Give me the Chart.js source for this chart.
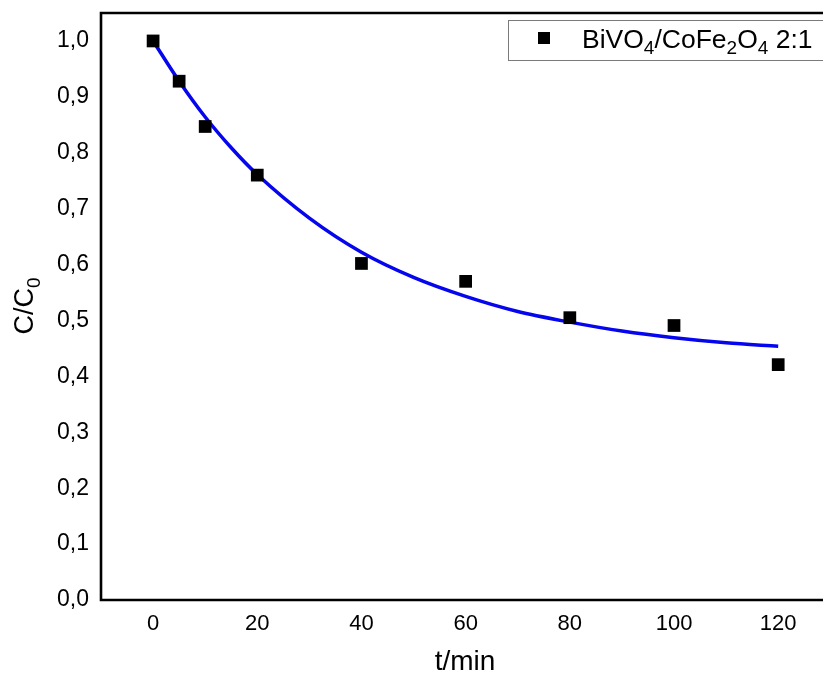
<!DOCTYPE html>
<html>
<head>
<meta charset="utf-8">
<script src="https://cdn.jsdelivr.net/npm/chart.js@4.4.1/dist/chart.umd.min.js"></script>
<style>
  html, body { margin: 0; padding: 0; background: #ffffff; }
  #wrap { width: 823px; height: 682px; position: relative; }
</style>
</head>
<body>
<div id="wrap"><canvas id="chart" width="823" height="682"></canvas></div>
<script>
// Measured concentration ratio C/C0 over irradiation time
const times = [0, 5, 10, 20, 40, 60, 80, 100, 120];
const ratio = [1.0, 0.928, 0.847, 0.760, 0.602, 0.570, 0.505, 0.491, 0.421];

// Kinetic fit curve sampled along the time axis
const fitTimes = [0, 5, 10, 15, 20, 30, 40, 50, 60, 70, 80, 90, 100, 110, 120];
const fitValues = [1.0, 0.928, 0.864, 0.809, 0.761, 0.683, 0.622, 0.577, 0.543, 0.516, 0.497, 0.481, 0.469, 0.460, 0.454];

// Axis ticks
const xTicks = [0, 20, 40, 60, 80, 100, 120];
const yTicks = [0, 0.1, 0.2, 0.3, 0.4, 0.5, 0.6, 0.7, 0.8, 0.9, 1.0];

// Legend entry, split into normal and subscript parts
const seriesLabel = [['BiVO', false], ['4', true], ['/CoFe', false], ['2', true], ['O', false], ['4', true], [' 2:1', false]];
const yTitle = [['C/C', false], ['0', true]];
const xTitle = 't/min';

const FONT = '"Liberation Sans", Arial, sans-serif';

function drawRich(ctx, parts, x, y, size) {
  // draws text with subscripts starting at x on baseline y; returns width
  let cx = x;
  for (const [txt, sub] of parts) {
    const s = sub ? Math.round(size * 0.7) : size;
    ctx.font = s + 'px ' + FONT;
    ctx.fillText(txt, cx, sub ? y + size * 0.25 : y);
    cx += ctx.measureText(txt).width;
  }
  return cx - x;
}
function richWidth(ctx, parts, size) {
  let w = 0;
  for (const [txt, sub] of parts) {
    const s = sub ? Math.round(size * 0.7) : size;
    ctx.font = s + 'px ' + FONT;
    w += ctx.measureText(txt).width;
  }
  return w;
}

// no extra room around the plot area for edge labels
function tightFit(s) {
  s.paddingLeft = 0; s.paddingRight = 0; s.paddingTop = 0; s.paddingBottom = 0;
}

const framePlugin = {
  id: 'frame',
  afterDraw(chart) {
    const ctx = chart.ctx;
    const a = chart.chartArea;
    ctx.save();
    // plot frame: left, bottom and top edges
    ctx.strokeStyle = '#000';
    ctx.lineWidth = 2.6;
    ctx.beginPath();
    ctx.moveTo(a.right + 2, a.top);
    ctx.lineTo(a.left, a.top);
    ctx.lineTo(a.left, a.bottom);
    ctx.lineTo(a.right + 2, a.bottom);
    ctx.stroke();

    // legend box
    const bx = 508.5, by = 20.5, bh = 40;
    ctx.fillStyle = '#fff';
    ctx.fillRect(bx, by, a.right - bx + 5, bh);
    ctx.strokeStyle = '#7a7a7a';
    ctx.lineWidth = 1;
    ctx.strokeRect(bx, by, a.right - bx + 5, bh);
    ctx.fillStyle = '#000';
    ctx.fillRect(538, 32, 12, 12);
    ctx.textBaseline = 'alphabetic';
    ctx.textAlign = 'left';
    drawRich(ctx, seriesLabel, 582, 47.5, 26.5);

    // axis titles
    ctx.font = '28px ' + FONT;
    ctx.textAlign = 'center';
    ctx.fillText(xTitle, 465, 670);
    ctx.save();
    ctx.translate(33, 306);
    ctx.rotate(-Math.PI / 2);
    ctx.textAlign = 'left';
    const w = richWidth(ctx, yTitle, 27);
    drawRich(ctx, yTitle, -w / 2, 0, 27);
    ctx.restore();
    ctx.restore();
  }
};

new Chart(document.getElementById('chart'), {
  type: 'scatter',
  data: {
    datasets: [
      {
        label: 'fit',
        data: fitTimes.map((t, i) => ({ x: t, y: fitValues[i] })),
        showLine: true,
        borderColor: '#0505ee',
        borderWidth: 3.5,
        pointRadius: 0,
        cubicInterpolationMode: 'monotone',
        clip: false,
        order: 2
      },
      {
        label: 'BiVO4/CoFe2O4 2:1',
        data: times.map((t, i) => ({ x: t, y: ratio[i] })),
        pointStyle: 'rect',
        pointRadius: 9,
        pointBackgroundColor: '#000',
        pointBorderWidth: 0,
        showLine: false,
        clip: false,
        order: 1
      }
    ]
  },
  options: {
    responsive: false,
    animation: false,
    layout: { autoPadding: false, padding: { top: 13, right: 0, left: 0, bottom: 0 } },
    plugins: { legend: { display: false }, tooltip: { enabled: false } },
    scales: {
      x: {
        type: 'linear',
        min: -10,
        max: 128.6,
        grid: { display: false, drawTicks: false },
        border: { display: false },
        afterBuildTicks: s => { s.ticks = xTicks.map(v => ({ value: v })); },
        afterFit: s => { s.height = 82; tightFit(s); },
        ticks: {
          padding: 11,
          color: '#000',
          font: { family: FONT, size: 22 },
          maxRotation: 0,
          callback: v => String(v)
        }
      },
      y: {
        type: 'linear',
        min: 0,
        max: 1.05,
        grid: { display: false, drawTicks: false },
        border: { display: false },
        afterBuildTicks: s => { s.ticks = yTicks.map(v => ({ value: v })); },
        afterFit: s => { s.width = 101; tightFit(s); },
        ticks: {
          padding: 12,
          color: '#000',
          font: { family: FONT, size: 23 },
          callback: v => v.toFixed(1).replace('.', ',')
        }
      }
    }
  },
  plugins: [framePlugin]
});
</script>
</body>
</html>
